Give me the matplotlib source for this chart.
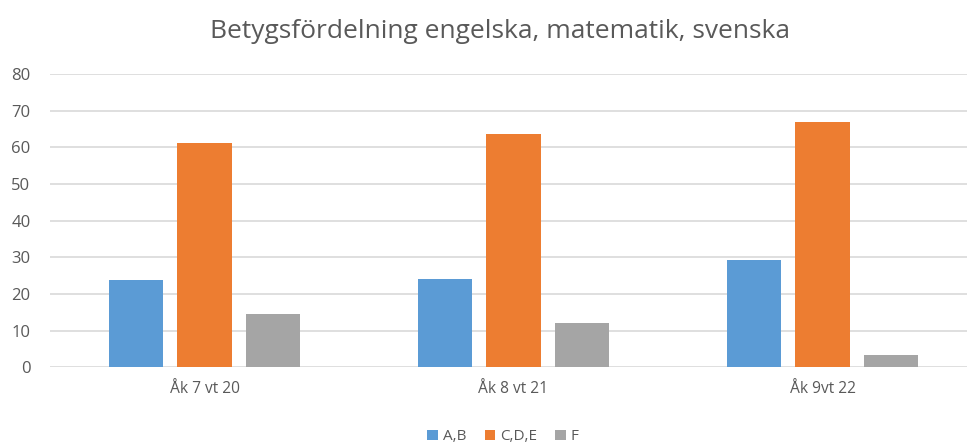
import matplotlib.pyplot as plt
import numpy as np

categories = ['Åk 7 vt 20', 'Åk 8 vt 21', 'Åk 9vt 22']
series_names = ['A,B', 'C,D,E', 'F']
ab = [23.7, 24.1, 29.4]
cde = [61.3, 63.6, 66.8]
f = [14.6, 12.0, 3.3]
colors = ['#5b9bd5', '#ed7d31', '#a5a5a5']

plt.rcParams['font.family'] = ['Open Sans', 'DejaVu Sans']

fig = plt.figure(figsize=(9.67, 4.45), dpi=100)
ax = fig.add_axes([50 / 967, 0.1746, 917 / 967, 0.6591])

x = np.arange(len(categories))
step = 0.2215
width = 0.176
for i, (vals, name) in enumerate(zip([ab, cde, f], series_names)):
    ax.bar(x + (i - 1) * step, vals, width, color=colors[i], label=name, zorder=3)

ax.set_xlim(-0.5, 2.5 - 10 / 309)
ax.set_ylim(0, 80)
ax.set_yticks(range(0, 81, 10))
ax.set_xticks(x)
ax.set_xticklabels(categories, fontsize=11.2)
ax.grid(axis='y', color='#d9d9d9', linewidth=1.2, zorder=0)
for s in ax.spines.values():
    s.set_visible(False)
ax.tick_params(axis='both', length=0, colors='#595959')
ax.tick_params(axis='y', pad=14, labelsize=12)
ax.tick_params(axis='x', pad=10)

fig.text(0.517, 0.93, 'Betygsfördelning engelska, matematik, svenska',
         ha='center', va='center', fontsize=19, color='#595959')

fig.legend(loc='center', bbox_to_anchor=(0.52, 0.018), ncol=3, frameon=False,
           fontsize=11, handlelength=0.7, handleheight=0.7, handletextpad=0.3,
           columnspacing=1.2, labelcolor='#595959')

fig.savefig('out.png', dpi=100)
